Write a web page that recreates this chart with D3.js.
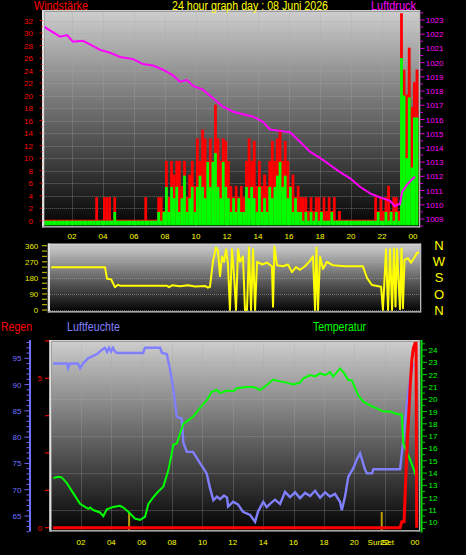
<!DOCTYPE html>
<html><head><meta charset="utf-8">
<script src="https://cdn.jsdelivr.net/npm/d3@7"></script>
<style>
html,body{margin:0;padding:0;background:#000;}
svg{display:block;}
text{font-family:"Liberation Sans",Arial,sans-serif;}
</style></head><body>
<svg id="c" width="466" height="555"></svg>
<script>
// ---------------- DATA ----------------
const titleText = "24 hour graph day : 08 Juni 2026";
const hourTicks = [2,4,6,8,10,12,14,16,18,20,22,24];
const hourLabels = ["02","04","06","08","10","12","14","16","18","20","22","00"];
const windTicks = [0,2,4,6,8,10,12,14,16,18,20,22,24,26,28,30,32];
const presTicks = [1009,1010,1011,1012,1013,1014,1015,1016,1017,1018,1019,1020,1021,1022,1023];
const dirTicks = [0,90,180,270,360];
const compassLabels = ["N","W","S","O","N"];
const humTicks = [65,70,75,80,85,90,95];
const rainTicks = [0,5];
const tempTicks = [10,11,12,13,14,15,16,17,18,19,20,21,22,23,24];

// wind gust (red) and average wind (green), 10-minute samples from 00:00
const gust = [0,0,0,0,0,0,0,0,0,0,0,0,0,0,0,0,0,0,0,0,0,
  3.6,0,0,3.6,3.6,3.6,0,3.6,
  0,0,0,0,0,0,0,0,0,0,0,
  3.6,0,0,0,0,
  3.6,3.6,1.4,9.4,3.6,9.4,7.2,9.4,9.4,5.4,9.4,3.6,7.2,9.4,5.4,
  13,9.4,14.4,13,9.4,13,9.4,18.4,13,9.4,13,12.6,9.4,5.4,3.6,5.4,3.6,5.4,
  3.6,9.4,13,9.4,12.6,5.4,9.4,5.4,7.2,5.4,9.4,12.6,9.4,13,14.4,9.4,12.6,9.4,
  5.4,7.2,3.6,5.4,3.6,3.6,3.6,1.4,3.6,1.4,3.6,3.6,1.4,3.6,1.4,3.6,1.4,3.6,0,1.4,
  0,0,0,0,0,0,0,0,0,0,0,0,0,
  3.6,1.4,3.6,1.4,3.6,5.4,1.4,3.6,3.6,1.4,33,24,20,27.5,18,22,24];
const wind = [0,0,0,0,0,0,0,0,0,0,0,0,0,0,0,0,0,0,0,0,0,0,0,0,0,0,0,0,
  1.4,
  0,0,0,0,0,0,0,0,0,0,0,0,0,0,0,0,
  1.4,0,1.4,5.4,1.4,5.4,3.6,5.4,1.4,3.6,7.2,1.4,3.6,5.4,1.4,
  5.4,7.2,5.4,3.6,9.4,5.4,9.4,10.8,5.4,3.6,9.4,5.4,3.6,1.4,3.6,1.4,3.6,1.4,
  1.4,5.4,3.6,5.4,3.6,1.4,5.4,1.4,3.6,1.4,5.4,3.6,5.4,7.2,9.4,5.4,7.2,3.6,
  5.4,1.4,3.6,1.4,1.4,0,1.4,0,1.4,0,1.4,
  0,1.4,0,0,0,1.4,
  0,0,0,0,0,0,0,0,0,0,0,0,0,0,0,0,0,
  1.4,0,0,1.4,0,1.4,0,1.4,0,26,20,10,19.7,8.5,16.5,16.5];

// air pressure (magenta)
const presHours = [0.19,1.23,1.68,2.06,2.71,3.16,3.81,4.45,5.10,5.94,6.58,7.23,7.87,8.52,8.97,9.42,9.81,10.45,11.10,11.74,12.39,13.29,13.68,14.32,14.77,15.42,16.06,16.71,17.35,18.0,18.65,19.29,19.94,20.58,21.23,21.68,22.06,22.52,22.84,23.03,23.16,23.29,23.61,24.0,24.13];
const presValues = [1022.53,1021.83,1021.94,1021.47,1021.54,1021.29,1020.9,1020.7,1020.4,1020.25,1019.9,1019.8,1019.5,1019.1,1018.66,1018.78,1018.36,1018.1,1017.5,1016.9,1016.55,1016.3,1016.2,1015.84,1015.3,1015.2,1015.1,1014.44,1013.74,1013.3,1012.8,1012.3,1011.86,1011.27,1010.8,1010.6,1010.45,1010.28,1009.9,1010.03,1010.05,1010.9,1011.4,1011.86,1011.97];

// wind direction (yellow)
const dirHours = [0.65,4.13,4.26,4.52,4.77,4.97,5.10,8.13,8.26,8.45,8.97,9.48,9.94,10.58,10.77,10.9,11.1,11.29,11.42,11.55,11.68,11.81,11.94,12.06,12.19,12.32,12.45,12.58,12.71,12.84,13.03,13.16,13.29,13.42,13.55,13.68,13.81,13.94,14.26,14.58,14.9,14.97,15.06,15.23,15.61,15.94,16.19,16.45,16.71,17.03,17.35,17.55,17.68,17.77,17.87,18.0,18.19,18.45,18.84,19.61,20.77,21.03,21.35,21.94,22.06,22.26,22.39,22.52,22.65,22.77,22.87,22.97,23.16,23.26,23.35,23.45,23.68,23.87,24.13,24.26,24.39];
const dirValues = [240,240,175,172,128,141,136,136,128,138,133,138,132,135,125,130,275,350,330,190,300,270,340,260,0,340,200,0,340,270,300,0,0,350,0,340,0,270,255,265,245,18,355,250,245,255,212,240,225,245,275,300,0,350,0,300,230,270,250,245,245,180,140,130,0,340,0,340,0,345,20,340,5,345,10,280,290,265,300,320,320];

// humidity (blue)
const humHours = [0.16,1.08,1.15,1.28,1.80,1.94,2.13,2.46,3.06,3.37,3.58,3.72,3.85,3.98,4.11,4.24,4.37,6.09,6.22,7.21,7.34,7.65,7.87,8.06,8.31,8.64,8.74,8.97,9.38,9.85,10.28,10.5,10.72,10.96,11.16,11.42,11.62,11.69,12.02,12.34,12.67,13.14,13.47,13.67,14.01,14.23,14.45,14.78,15.11,15.44,15.77,16.1,16.43,16.76,17.09,17.42,17.75,18.08,18.4,18.73,19.06,19.18,19.39,19.61,19.94,20.16,20.38,20.49,20.71,20.84,21.17,21.26,23.02,23.23,23.46,23.68,23.89];
const humValues = [94,94,93.1,94,94,93.1,94,95,95.8,96.6,97,96.2,97,96.3,97,96.3,96,96,97,97,96,95.8,92.8,89.6,83.9,83.5,79,77.2,77.2,75,73.1,70.3,68,68.7,68.2,68.9,68.5,66.8,67.7,67.2,65.8,65.2,63.9,65.9,67.7,66.7,67.3,68.1,67.3,69.6,68.6,69.5,68.4,69.4,68.8,69.8,68.5,69.5,68.7,69.2,67.7,66.1,68.7,72.5,74.1,75.7,76.9,75.9,73.8,73.1,73.1,73.9,73.9,79.5,86.4,91.2,94];

// temperature (green)
const tempHours = [0.18,0.51,0.73,1.06,1.5,1.94,2.27,2.48,2.6,2.81,3.25,3.47,3.7,4.13,4.57,4.79,5.12,5.56,5.89,6.22,6.44,6.77,7.09,7.42,7.75,7.98,8.08,8.31,8.52,8.74,8.97,9.4,9.84,10.28,10.61,10.94,11.16,11.6,12.04,12.26,12.92,13.35,13.79,14.24,14.67,15.11,15.55,15.99,16.43,16.65,17.09,17.42,17.75,18.08,18.4,18.62,19.07,19.28,19.61,19.84,20.27,20.6,21.04,21.48,21.92,22.36,22.8,23.13,23.23,23.46,23.68,23.89,24.16];
const tempValues = [13.6,13.7,13.65,13.2,12.35,11.5,11.26,11.1,11.2,11.0,10.8,10.5,11.05,11.25,11.34,11.2,10.85,10.3,10.2,10.45,11.5,12.05,12.5,12.9,14.2,15.6,16.3,16.4,17.2,18.0,18.2,18.6,19.3,19.9,20.6,20.75,20.5,20.7,20.65,20.9,21.0,21.0,20.75,21.15,21.6,21.45,21.35,21.2,21.35,21.7,21.97,21.85,22.1,21.95,22.2,21.85,22.5,22.2,21.55,21.55,20.3,19.8,19.5,19.25,19.0,19.0,18.8,18.75,16.4,15.7,15.1,14.4,13.4];

// rain (red)
const rainHours = [0.16,23.02,23.13,23.28,23.46,23.68,23.79,23.89,24.0,24.07,24.11];
const rainValues = [0,0,0.2,0.2,2.5,4.7,5.6,6.0,6.17,6.2,0];

// sunrise / sunset (hours)
const sunEvents = [5.17, 21.81];

// ---------------- DRAW ----------------
const svg = d3.select("#c");
const defs = svg.append("defs");
const grad = defs.append("linearGradient").attr("id","bg").attr("x1",0).attr("y1",0).attr("x2",0).attr("y2",1);
grad.append("stop").attr("offset","0%").attr("stop-color","#cdcdcd");
grad.append("stop").attr("offset","55%").attr("stop-color","#5c5c5c");
grad.append("stop").attr("offset","100%").attr("stop-color","#040404");

const xTop = d3.scaleLinear().domain([0,24]).range([41,413]);
const xBot = d3.scaleLinear().domain([0,24]).range([50.6,415]);
const yWind = d3.scaleLinear().domain([0,32]).range([220.7,20.5]);
const yPres = d3.scaleLinear().domain([1009,1023]).range([219,20]);
const yDir = d3.scaleLinear().domain([0,360]).range([310,245.7]);
const yHum = d3.scaleLinear().domain([65,95]).range([516,358.3]);
const yRain = d3.scaleLinear().domain([0,5]).range([527.7,378.3]);
const yTemp = d3.scaleLinear().domain([10,24]).range([522.3,350]);

function panel(id, x0, y0, x1, y1){
  defs.append("clipPath").attr("id",id).append("rect").attr("x",x0).attr("y",y0).attr("width",x1-x0).attr("height",y1-y0);
  svg.append("rect").attr("x",x0).attr("y",y0).attr("width",x1-x0).attr("height",y1-y0).attr("fill","url(#bg)");
}
function frame(x0,y0,x1,y1){
  svg.append("rect").attr("x",x0-2).attr("y",y0-1.5).attr("width",x1-x0+3).attr("height",1.5).attr("fill","#d0d0d0");
  svg.append("rect").attr("x",x0-2.3).attr("y",y0-1.5).attr("width",2.3).attr("height",y1-y0+3).attr("fill","#e0e0e0");
  svg.append("rect").attr("x",x0-2).attr("y",y1).attr("width",x1-x0+3).attr("height",1.6).attr("fill","#a8a8a8");
  svg.append("rect").attr("x",x1).attr("y",y0-1.5).attr("width",1.3).attr("height",y1-y0+3).attr("fill","#b8b8b8");
}
const gridStyle = s => s.attr("stroke","#a8a8a8").attr("stroke-opacity",0.55).attr("stroke-width",1).attr("stroke-dasharray","1,1");

// ===== TOP PANEL =====
const T = {x0:44.3, y0:11.5, x1:419, y1:226};
panel("clipTop", T.x0, T.y0, T.x1, T.y1);
const gTop = svg.append("g");
gTop.selectAll(".hg").data(windTicks.filter(d=>d>0)).join("line")
  .attr("x1",T.x0).attr("x2",T.x1).attr("y1",d=>Math.round(yWind(d))+0.5).attr("y2",d=>Math.round(yWind(d))+0.5).call(gridStyle);
gTop.selectAll(".vg").data(hourTicks.filter(h=>h<24)).join("line")
  .attr("y1",T.y0).attr("y2",T.y1).attr("x1",d=>Math.round(xTop(d))+0.5).attr("x2",d=>Math.round(xTop(d))+0.5).call(gridStyle);

const gBars = svg.append("g").attr("clip-path","url(#clipTop)");
const step = 1/6;
gBars.selectAll(".gust").data(gust).join("rect")
  .attr("x",(d,i)=>xTop(i*step)).attr("width",xTop(step)-xTop(0)+0.2)
  .attr("y",d=>yWind(d)-1).attr("height",d=>yWind(0)+1-(yWind(d)-1)).attr("fill","#ff0000");
gBars.selectAll(".wind").data(wind).join("rect")
  .attr("x",(d,i)=>xTop(i*step)).attr("width",xTop(step)-xTop(0)+0.2)
  .attr("y",d=>Math.min(yWind(d),223)).attr("height",d=>225.3-Math.min(yWind(d),223)).attr("fill","#00ff00");
const presData = presHours.map((h,i)=>[h,presValues[i]]);
gBars.append("path").datum(presData)
  .attr("d",d3.line().x(d=>xTop(d[0])).y(d=>yPres(d[1])))
  .attr("fill","none").attr("stroke","#ff00ff").attr("stroke-width",2);
frame(T.x0,T.y0,T.x1,T.y1);

// left wind axis
const gWA = svg.append("g");
gWA.selectAll("line.mi").data(d3.range(0,32.01,1)).join("line")
  .attr("x1",d=>d%2===0?39.5:41).attr("x2",42.5).attr("y1",d=>yWind(d)).attr("y2",d=>yWind(d))
  .attr("stroke","#d00000").attr("stroke-width",1);
gWA.selectAll("text").data(windTicks).join("text")
  .attr("x",33).attr("y",d=>yWind(d)+3).attr("text-anchor","end")
  .attr("font-size",8).attr("fill","#ff0000").text(d=>d);
// right pressure axis
const gPA = svg.append("g");
gPA.selectAll("line").data(d3.range(1008.5,1023.51,0.5)).join("line")
  .attr("x1",420.3).attr("x2",d=>Number.isInteger(d)?424.5:423).attr("y1",d=>yPres(d)).attr("y2",d=>yPres(d))
  .attr("stroke","#e000e0").attr("stroke-width",1);
gPA.selectAll("text").data(presTicks).join("text")
  .attr("x",425.7).attr("y",d=>yPres(d)+3).attr("font-size",8).attr("fill","#ff00ff").text(d=>d);
// x labels
svg.selectAll(".xl").data(hourTicks).join("text")
  .attr("x",d=>xTop(d)).attr("y",239).attr("text-anchor","middle")
  .attr("font-size",8).attr("fill","#ffff00").text((d,i)=>hourLabels[i]);
// titles
svg.append("text").attr("x",34).attr("y",10.3).attr("font-size",12).attr("fill","#ff0000")
  .attr("textLength",54).attr("lengthAdjust","spacingAndGlyphs").text("Windstärke");
svg.append("text").attr("x",172).attr("y",10.3).attr("font-size",12).attr("fill","#ffff00")
  .attr("textLength",156).attr("lengthAdjust","spacingAndGlyphs").text(titleText);
svg.append("text").attr("x",371).attr("y",10.3).attr("font-size",12).attr("fill","#ff00ff")
  .attr("textLength",45).attr("lengthAdjust","spacingAndGlyphs").text("Luftdruck");

// ===== DIRECTION PANEL =====
const D = {x0:50, y0:245, x1:420, y1:311};
panel("clipDir", D.x0, D.y0, D.x1, D.y1);
svg.append("g").selectAll("line").data(dirTicks).join("line")
  .attr("x1",D.x0).attr("x2",D.x1).attr("y1",d=>Math.round(yDir(d))+0.5).attr("y2",d=>Math.round(yDir(d))+0.5).call(gridStyle);
const dirData = dirHours.map((h,i)=>[h,dirValues[i]]);
svg.append("g").attr("clip-path","url(#clipDir)").append("path").datum(dirData)
  .attr("d",d3.line().x(d=>xTop(d[0])).y(d=>yDir(d[1])))
  .attr("fill","none").attr("stroke","#ffff00").attr("stroke-width",2).attr("stroke-linejoin","round");
frame(D.x0,D.y0,D.x1,D.y1);
svg.append("g").selectAll("line").data(d3.range(0,360.1,30)).join("line")
  .attr("x1",42).attr("x2",47).attr("y1",d=>yDir(d)).attr("y2",d=>yDir(d))
  .attr("stroke","#a8a800").attr("stroke-width",1.3);
svg.append("g").selectAll("text").data(dirTicks).join("text")
  .attr("x",38.3).attr("y",d=>yDir(d)+3).attr("text-anchor","end")
  .attr("font-size",8).attr("fill","#e8e800").text(d=>d);
svg.append("g").selectAll("text").data(compassLabels).join("text")
  .attr("x",439).attr("y",(d,i)=>yDir(360-i*90)+4.6).attr("text-anchor","middle")
  .attr("font-size",13).attr("fill","#ffff00").text(d=>d);

// ===== BOTTOM PANEL =====
const B = {x0:51.5, y0:341.5, x1:419, y1:530};
panel("clipBot", B.x0, B.y0, B.x1, B.y1);
svg.append("g").selectAll("line").data([11,14,17,20,23]).join("line")
  .attr("x1",B.x0).attr("x2",B.x1).attr("y1",d=>Math.round(yTemp(d))+0.5).attr("y2",d=>Math.round(yTemp(d))+0.5).call(gridStyle);
svg.append("g").selectAll("line").data(hourTicks.filter(h=>h<24)).join("line")
  .attr("y1",B.y0).attr("y2",B.y1).attr("x1",d=>Math.round(xBot(d))+0.5).attr("x2",d=>Math.round(xBot(d))+0.5).call(gridStyle);
const gB = svg.append("g").attr("clip-path","url(#clipBot)");
gB.selectAll(".sun").data(sunEvents).join("line")
  .attr("x1",d=>xBot(d)).attr("x2",d=>xBot(d)).attr("y1",512).attr("y2",B.y1)
  .attr("stroke","#b89c00").attr("stroke-width",2);
gB.append("path").datum(humHours.map((h,i)=>[h,humValues[i]]))
  .attr("d",d3.line().x(d=>xBot(d[0])).y(d=>yHum(d[1])))
  .attr("fill","none").attr("stroke","#8080ff").attr("stroke-width",2.4);
gB.append("path").datum(tempHours.map((h,i)=>[h,tempValues[i]]))
  .attr("d",d3.line().x(d=>xBot(d[0])).y(d=>yTemp(d[1])))
  .attr("fill","none").attr("stroke","#00ff00").attr("stroke-width",2);
gB.append("path").datum(rainHours.map((h,i)=>[h,rainValues[i]]))
  .attr("d",d3.line().x(d=>xBot(d[0])).y(d=>yRain(d[1])))
  .attr("fill","none").attr("stroke","#ff0000").attr("stroke-width",3);
frame(B.x0,B.y0,B.x1,B.y1);

// humidity axis
svg.append("line").attr("x1",30).attr("x2",30).attr("y1",340).attr("y2",531.5).attr("stroke","#7070ff").attr("stroke-width",2);
svg.append("g").selectAll("line").data(d3.range(62,99,1)).join("line")
  .attr("x1",d=>d%5===0?24.5:26.5).attr("x2",29).attr("y1",d=>yHum(d)).attr("y2",d=>yHum(d))
  .attr("stroke","#6a6aff").attr("stroke-width",1);
svg.append("g").selectAll("text").data(humTicks).join("text")
  .attr("x",21.5).attr("y",d=>yHum(d)+3).attr("text-anchor","end")
  .attr("font-size",8).attr("fill","#7070ff").text(d=>d);
// rain axis
svg.append("g").selectAll("line").data(d3.range(0,6.3,1.25)).join("line")
  .attr("x1",45).attr("x2",49).attr("y1",d=>yRain(d)).attr("y2",d=>yRain(d))
  .attr("stroke","#e00000").attr("stroke-width",1.3);
svg.append("g").selectAll("text").data(rainTicks).join("text")
  .attr("x",42).attr("y",d=>yRain(d)+3).attr("text-anchor","end")
  .attr("font-size",8).attr("fill","#ff0000").text(d=>d);
// temp axis
svg.append("line").attr("x1",421.6).attr("x2",421.6).attr("y1",340).attr("y2",532.5).attr("stroke","#00e000").attr("stroke-width",1.8);
svg.append("g").selectAll("line").data(d3.range(9.5,24.6,0.5)).join("line")
  .attr("x1",422.5).attr("x2",d=>Number.isInteger(d)?427:425).attr("y1",d=>yTemp(d)).attr("y2",d=>yTemp(d))
  .attr("stroke","#00d000").attr("stroke-width",1);
svg.append("g").selectAll("text").data(tempTicks).join("text")
  .attr("x",428.5).attr("y",d=>yTemp(d)+3).attr("font-size",8).attr("fill","#00ff00").text(d=>d);
// bottom x labels
svg.append("g").selectAll("text").data(hourTicks).join("text")
  .attr("x",d=>xBot(d)).attr("y",545).attr("text-anchor","middle")
  .attr("font-size",8).attr("fill","#ffff00").text((d,i)=>hourLabels[i]);
svg.append("text").attr("x",xBot(sunEvents[1])-1).attr("y",545).attr("text-anchor","middle")
  .attr("font-size",8).attr("fill","#ffff00").text("SunSet");
// legends
svg.append("text").attr("x",1).attr("y",331).attr("font-size",12).attr("fill","#ff0000")
  .attr("textLength",31).attr("lengthAdjust","spacingAndGlyphs").text("Regen");
svg.append("text").attr("x",67).attr("y",331).attr("font-size",12).attr("fill","#8080ff")
  .attr("textLength",53).attr("lengthAdjust","spacingAndGlyphs").text("Luftfeuchte");
svg.append("text").attr("x",313).attr("y",331).attr("font-size",12).attr("fill","#00ff00")
  .attr("textLength",53).attr("lengthAdjust","spacingAndGlyphs").text("Temperatur");
</script>
</body></html>
